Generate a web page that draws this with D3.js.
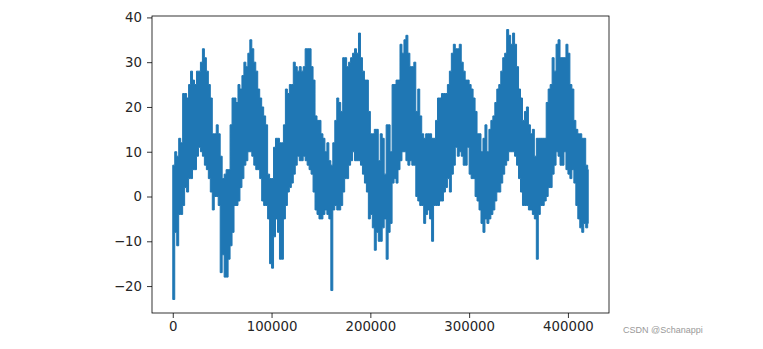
<!DOCTYPE html>
<html>
<head>
<meta charset="utf-8">
<script src="https://cdn.jsdelivr.net/npm/d3@7"></script>
<style>
  body { margin: 0; background: #fff; }
  svg text { font-family: "DejaVu Sans", sans-serif; }
</style>
</head>
<body>
<svg id="chart" width="763" height="349"></svg>
<script>
var blockSize = 2000;
var lastIndex = 420550;

var lowTemps = [
  -23, -8, -11, -4, -4, -2, 2, 1, 4, 4,
  6, 6, 9, 11, 10, 9, 7, 6, 4, 1,
  -3, 0, 0, -2, -17, -13, -18, -18, -14, -11,
  -8, -2, -2, -1, 2, 4, 7, 8, 10, 10,
  9, 7, 6, 6, 4, -1, -2, -2, -5, -15,
  -16, -9, -5, -8, -14, -14, -5, -2, 1, 2,
  3, 5, 7, 9, 8, 8, 9, 8, 7, 6,
  5, 1, -3, -4, -5, -5, -4, -3, -4, -5,
  -21, -3, -2, -3, -3, -2, 1, 4, 4, 7,
  8, 10, 8, 8, 8, 7, 5, 3, 1, -5,
  -4, -7, -12, -8, -10, -10, -7, -5, -14, -8,
  -6, 3, 4, 3, 6, 8, 10, 10, 8, 7,
  8, 7, 7, 0, -1, -2, -2, -6, -4, -3,
  -5, -10, -2, -2, -2, -1, -1, 1, 2, 4,
  1, 5, 7, 11, 9, 10, 9, 7, 7, 11,
  5, 4, 4, 0, -1, -3, -6, -8, -5, -6,
  -5, -4, -3, -1, 1, 1, 3, 5, 7, 8,
  10, 10, 10, 9, 7, 4, 1, -2, -2, -2,
  -3, -3, -4, -5, -14, -4, -2, -2, -1, 0,
  2, 2, 5, 7, 10, 9, 7, 7, 10, 6,
  5, 4, 6, 3, -2, -5, -7, -8, -6, -7,
  -6
];

var highTemps = [
  7, 10, 9, 13, 12, 23, 23, 22, 25, 28,
  26, 25, 28, 28, 30, 33, 31, 28, 25, 22,
  14, 14, 16, 14, 9, 4, 5, 6, 6, 16,
  22, 22, 21, 25, 24, 27, 30, 29, 32, 35,
  33, 30, 28, 24, 22, 20, 18, 16, 5, 4,
  4, 11, 13, 13, 12, 12, 16, 24, 23, 25,
  25, 30, 29, 28, 29, 28, 29, 33, 33, 33,
  29, 26, 18, 17, 17, 14, 13, 10, 12, 8,
  7, 12, 17, 22, 21, 19, 31, 31, 29, 30,
  31, 32, 33, 32, 36.5, 31, 28, 26, 26, 19,
  14, 14, 15, 15, 8, 14, 13, 5, 16, 16,
  10, 25, 25, 26, 26, 34, 32, 35, 36, 32,
  29, 29, 30, 19, 24, 18, 14, 13, 14, 14,
  14, 13, 13, 17, 22, 22, 23, 23, 23, 25,
  28, 32, 34, 33, 33, 34, 30, 28, 26, 26,
  25, 24, 22, 19, 14, 14, 10, 13, 16, 10,
  15, 17, 18, 21, 24, 25, 28, 31, 32, 37.3,
  36, 34, 36.5, 34, 29, 24, 22, 17, 19, 20,
  16, 14, 15, 9, 13, 13, 13, 13, 13, 21,
  24, 25, 31, 28, 34, 35, 31, 31, 31, 34,
  32, 25, 24, 17, 15, 14, 14, 13, 13, 7,
  6
];

var yTicks = [-20, -10, 0, 10, 20, 30, 40];
var xTicks = [0, 100000, 200000, 300000, 400000];

var lineColor = "#1f77b4";

var svg = d3.select("#chart"),
  margin = {top: 16, right: 154, bottom: 36, left: 152},
  width = +svg.attr("width") - margin.left - margin.right,
  height = +svg.attr("height") - margin.top - margin.bottom,
  g = svg.append("g").attr("transform", "translate(" + margin.left + "," + margin.top + ")");

var points = [];
for (var i = 0; i < lowTemps.length; i++) {
  points.push({x: i * blockSize, lo: lowTemps[i], hi: highTemps[i]});
}
// close the last block at the final sample
points.push({x: lastIndex, lo: lowTemps[lowTemps.length - 1], hi: highTemps[highTemps.length - 1]});

// matplotlib style 5% margins
var xPad = lastIndex * 0.05;
var yMin = d3.min(lowTemps), yMax = d3.max(highTemps);
var yPad = (yMax - yMin) * 0.05;

var x = d3.scaleLinear()
  .domain([-xPad, lastIndex + xPad])
  .range([0, width]);

var y = d3.scaleLinear()
  .domain([yMin - yPad, yMax + yPad])
  .range([height, 0]);

var band = d3.area()
  .curve(d3.curveStepAfter)
  .x(function(d) { return x(d.x); })
  .y0(function(d) { return y(d.lo); })
  .y1(function(d) { return y(d.hi); });

g.append("path")
  .datum(points)
  .attr("d", band)
  .style("fill", lineColor)
  .style("stroke", lineColor)
  .style("stroke-width", 1)
  .style("stroke-linejoin", "round");

var xAxis = d3.axisBottom(x)
  .tickValues(xTicks)
  .tickSize(5)
  .tickPadding(4)
  .tickFormat(d3.format("d"));

var yAxis = d3.axisLeft(y)
  .tickValues(yTicks)
  .tickSize(5)
  .tickPadding(5)
  .tickFormat(d3.format("d"));

g.append("g")
  .attr("class", "x axis")
  .attr("transform", "translate(0," + height + ")")
  .call(xAxis);

g.append("g")
  .attr("class", "y axis")
  .call(yAxis);

g.selectAll(".axis .domain").remove();
g.selectAll(".axis line").attr("stroke", "#000").attr("stroke-width", 0.8);
g.selectAll(".axis text")
  .attr("fill", "#262626")
  .style("font-size", "13.3px");

// frame
g.append("rect")
  .attr("x", 0)
  .attr("y", 0)
  .attr("width", width)
  .attr("height", height)
  .style("fill", "none")
  .style("stroke", "#000")
  .style("stroke-width", 0.8);

svg.append("text")
  .attr("x", 623)
  .attr("y", 333)
  .style("font-family", "'Liberation Sans', Arial, sans-serif")
  .style("font-size", "9px")
  .style("fill", "#999")
  .text("CSDN @Schanappi");
</script>
</body>
</html>
